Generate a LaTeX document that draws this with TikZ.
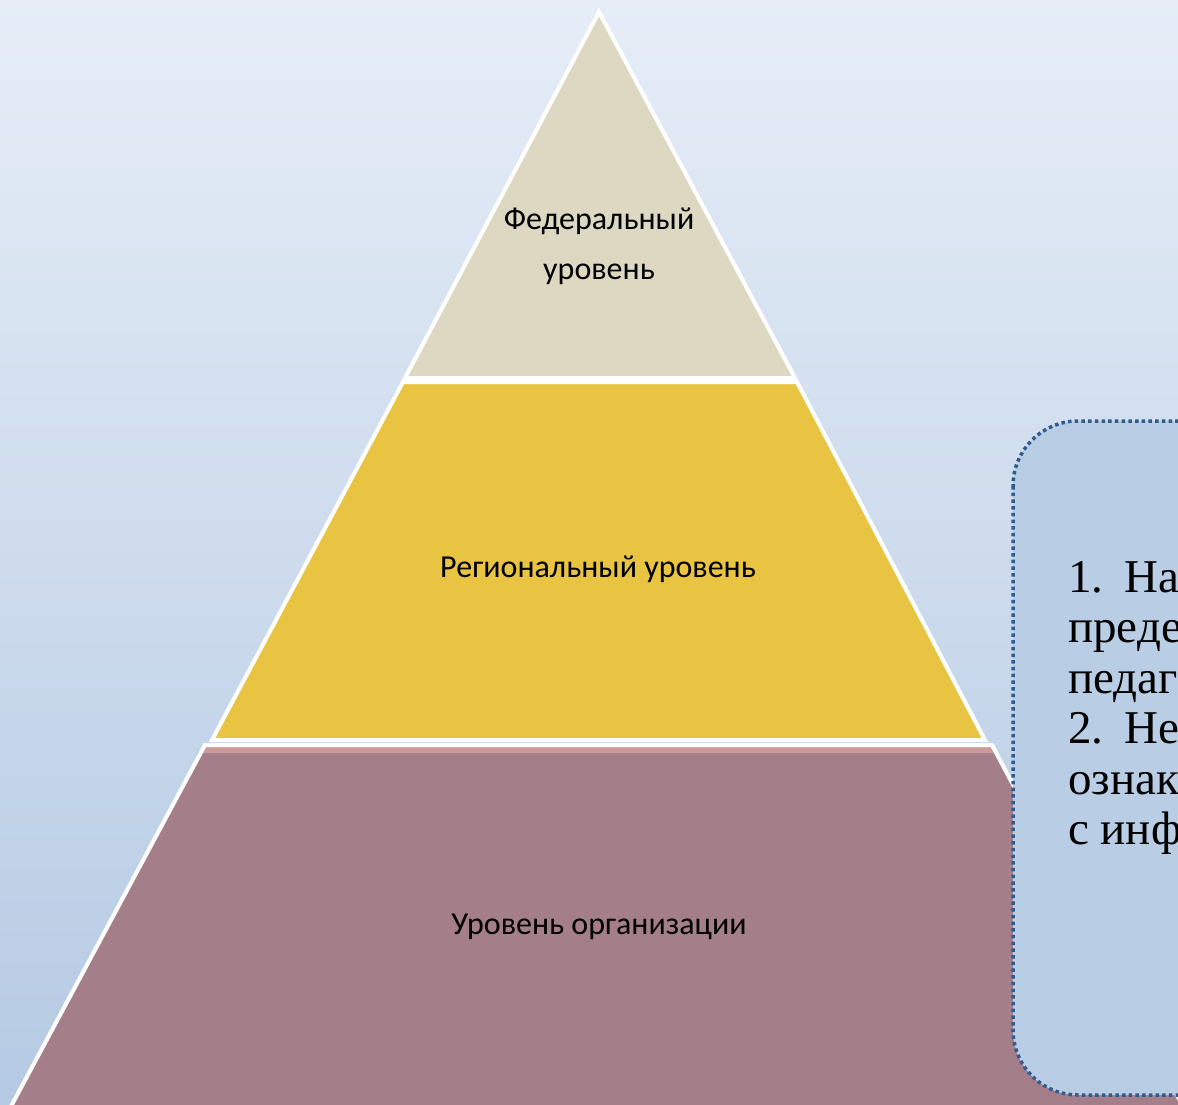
\documentclass[tikz,border=0pt]{standalone}
\usepackage{fontspec}
\setmainfont{Liberation Serif}
\newfontfamily\levelfont{Carlito}
\definecolor{bgtop}{HTML}{E6EDF7}
\definecolor{bgbottom}{HTML}{B5CAE3}
\definecolor{fedcol}{HTML}{DDD8C2}
\definecolor{regcol}{HTML}{E9C443}
\definecolor{orgcol}{HTML}{A47F89}
\definecolor{bandcol}{HTML}{CB9B9B}
\definecolor{notefill}{HTML}{B9CDE5}
\definecolor{noteline}{HTML}{305C90}
\begin{document}
\begin{tikzpicture}[x=1pt,y=-1pt,
	layer/.style={draw=white,line width=4pt,line join=miter},
	notebox/.style={draw=noteline,fill=notefill,line width=3.5pt,dash pattern=on 3.5pt off 3.2pt,rounded corners=65pt}]
	\useasboundingbox (0,0) rectangle (1178,1105);
	\shade[top color=bgtop,bottom color=bgbottom] (0,0) rectangle (1178,1105);

	% pyramid layers
	\filldraw[layer,fill=fedcol] (599,12) -- (795,378) -- (405,378) -- cycle;
	\filldraw[layer,fill=regcol] (403,382) -- (797,382) -- (985,740) -- (212,740) -- cycle;
	\fill[orgcol] (205,745) -- (992,745) -- (1186,1112) -- (8,1112) -- cycle;
	\fill[bandcol] (206,747) -- (991,747) -- (994,753) -- (203,753) -- cycle;
	\draw[layer] (205,745) -- (992,745) -- (1186,1112) -- (8,1112) -- cycle;

	% note box
	\draw[notebox] (1013,421) rectangle (1260,1095);

	\begin{scope}[every node/.style={font=\levelfont\fontsize{32}{50}\selectfont,align=center}]
	\node (fed) at (599,246) {Федеральный\\уровень};
	\node (reg) at (598,569) {Региональный уровень};
	\node (org) at (599,927) {Уровень организации};
	\end{scope}

	\node[anchor=north west,align=left,inner sep=0pt,font=\fontsize{47}{50.5}\selectfont] (note) at (1068,561)
		{1.\hspace{0.45em}На\\преде\\педаг\\2.\hspace{0.45em}Не\\ознак\\с инф};
\end{tikzpicture}
\end{document}
